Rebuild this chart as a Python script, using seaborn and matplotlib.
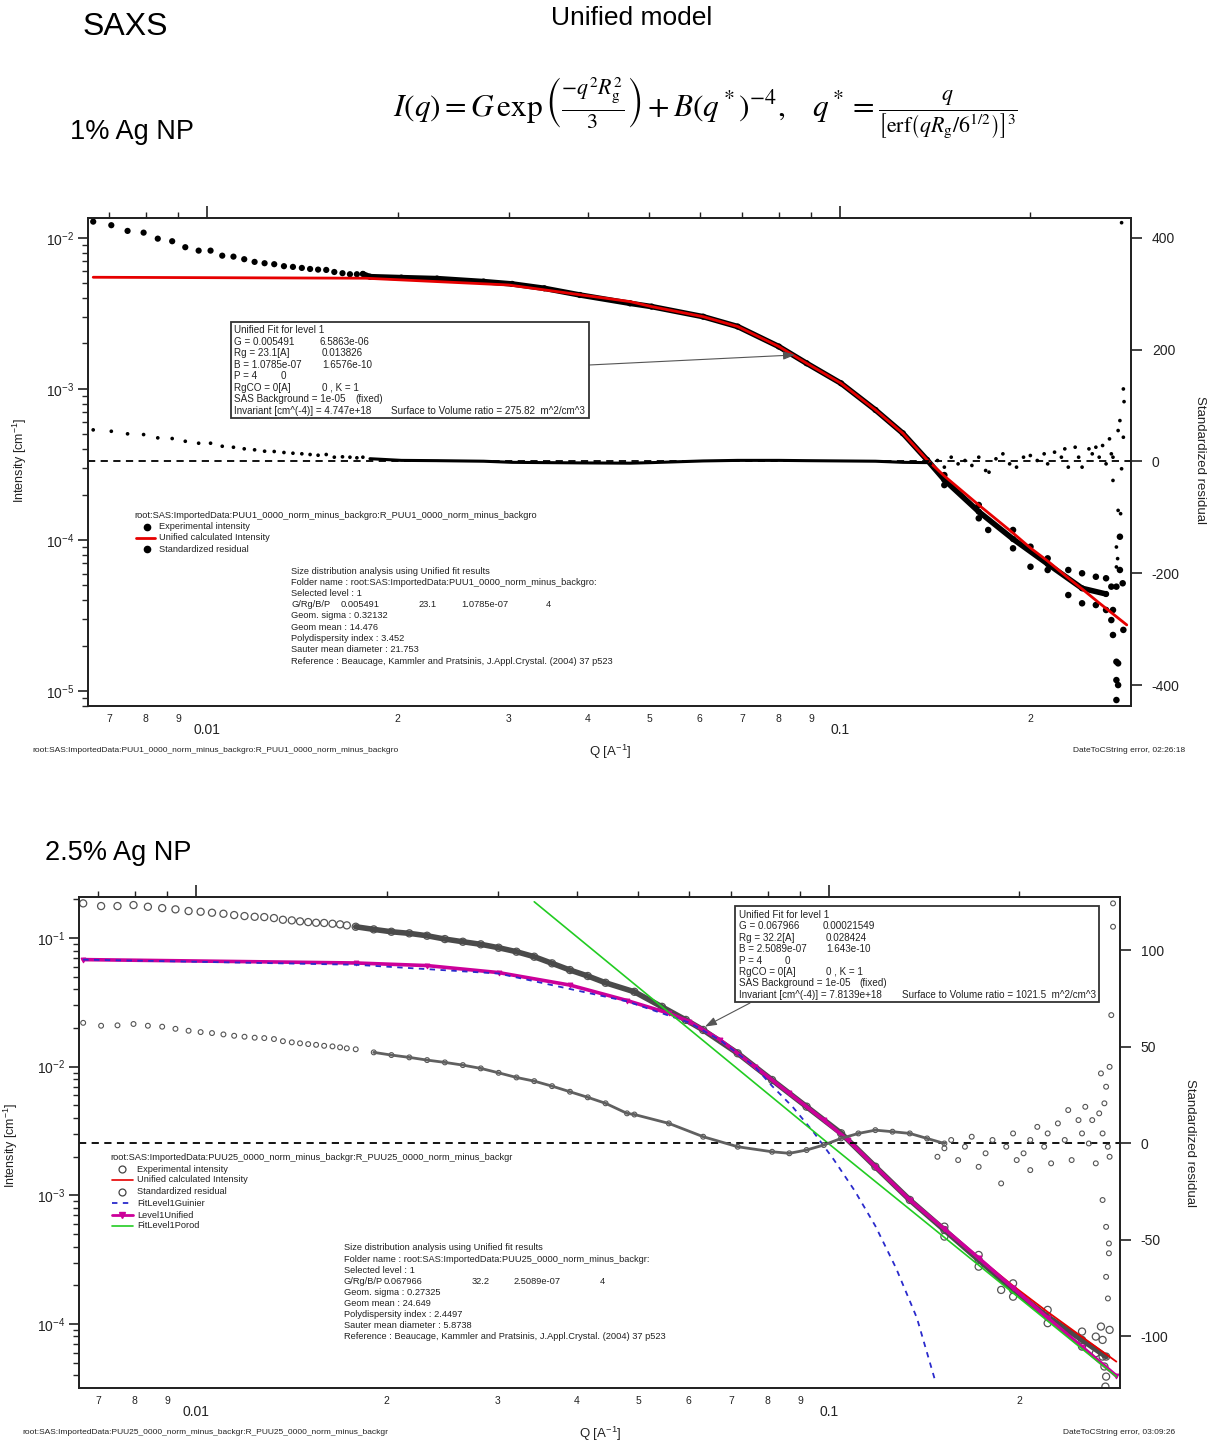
import numpy as np
import matplotlib
matplotlib.use("Agg")
import matplotlib.pyplot as plt
import seaborn as sns
from matplotlib.lines import Line2D
from matplotlib.patches import Rectangle
from matplotlib.ticker import (FixedLocator, FixedFormatter, LogLocator,
                               LogFormatterMathtext, NullFormatter, NullLocator)

# ------------------------------------------------------------------ data
# ---- panel 1 : 1% Ag NP ----
q1_exp = np.array([0.00661, 0.00706, 0.00749, 0.00794, 0.00836, 0.00881, 0.00924, 0.00970,
                   0.01013, 0.01057, 0.01101, 0.01145, 0.01189, 0.01233, 0.01277, 0.01323,
                   0.01367, 0.01412, 0.01455, 0.01498, 0.01543, 0.01589, 0.01637, 0.01682,
                   0.01725, 0.01763, 0.01809, 0.02028, 0.02309, 0.02735, 0.03034, 0.03411,
                   0.03883, 0.04658, 0.05041, 0.06081, 0.06893, 0.08006, 0.08857, 0.1004,
                   0.1138, 0.1257, 0.1373, 0.1462, 0.1657, 0.1877, 0.2129, 0.2413, 0.2633])
I1_exp = np.array([0.01282, 0.01214, 0.01113, 0.01084, 0.00989, 0.00951, 0.00868, 0.00824,
                   0.00824, 0.00763, 0.00752, 0.00723, 0.00694, 0.00680, 0.00670, 0.00650,
                   0.00643, 0.00633, 0.00623, 0.00617, 0.00614, 0.00595, 0.00584, 0.00575,
                   0.00575, 0.00578, 0.00554, 0.00546, 0.00538, 0.00514, 0.00496, 0.00464,
                   0.00419, 0.00369, 0.00351, 0.00301, 0.00259, 0.00191, 0.00148, 0.00109,
                   0.000726, 0.000509, 0.000339, 0.000250, 0.000154, 0.0001015, 6.94e-5,
                   4.79e-5, 4.39e-5])
q1_band = np.array([0.1462, 0.1462, 0.1657, 0.1657, 0.1715, 0.1877, 0.1877, 0.2000, 0.2000,
                    0.2129, 0.2129, 0.2295, 0.2295, 0.2413, 0.2413, 0.2537, 0.2537, 0.2633,
                    0.2633, 0.2684, 0.2684, 0.2769, 0.2769, 0.2797, 0.2734, 0.2700, 0.2804,
                    0.2700, 0.2734, 0.2751, 0.2734, 0.2751, 0.2734])
I1_band = np.array([2.69e-4, 2.31e-4, 1.705e-4, 1.392e-4, 1.165e-4, 1.165e-4, 8.81e-5, 9.03e-5,
                    6.65e-5, 7.56e-5, 6.33e-5, 6.33e-5, 4.32e-5, 6.02e-5, 3.81e-5, 5.71e-5,
                    3.71e-5, 5.58e-5, 3.44e-5, 4.91e-5, 2.95e-5, 1.051e-4, 6.33e-5, 5.17e-5,
                    4.91e-5, 3.44e-5, 2.54e-5, 2.35e-5, 1.563e-5, 1.525e-5, 1.182e-5,
                    1.095e-5, 8.72e-6])
q1_fit = np.array([0.00661, 0.01781, 0.02996, 0.04658, 0.05041, 0.06081, 0.06893, 0.08006,
                   0.08857, 0.1004, 0.1138, 0.1257, 0.1373, 0.1462, 0.1657, 0.1877, 0.2000,
                   0.2129, 0.2295, 0.2413, 0.2568, 0.2839])
I1_fit = np.array([0.00549, 0.00541, 0.00488, 0.00379, 0.00351, 0.00301, 0.00259, 0.00191,
                   0.00148, 0.00109, 0.000726, 0.000509, 0.000339, 2.653e-4, 1.705e-4,
                   1.112e-4, 8.85e-5, 7.26e-5, 5.60e-5, 4.74e-5, 3.83e-5, 2.74e-5])
r1_res_low = np.array([56.6, 54.1, 49.5, 48.2, 42.3, 41.1, 36.2, 32.7, 32.7, 27.3, 25.5, 22.7,
                       20.9, 18.4, 17.9, 16.1, 14.8, 13.8, 12.5, 11.2, 12.5, 7.7, 8.4, 7.7,
                       6.6, 7.7])
q1_res_mid = np.array([0.01809, 0.02028, 0.02309, 0.02735, 0.03034, 0.03411, 0.03883, 0.04658,
                       0.05041, 0.06081, 0.06893, 0.08006, 0.08857, 0.1004, 0.1138, 0.1257,
                       0.1373])
r1_res_mid = np.array([5.0, 2.0, 1.5, 0.5, -1.5, -2.0, -2.5, -3.0, -2.0, 1.0, 2.0, 2.0, 1.5,
                       1.0, 0.5, -1.5, -2.0])
q1_res_hi = np.array([0.1390, 0.1426, 0.1462, 0.1499, 0.1537, 0.1576, 0.1616, 0.1657, 0.1699,
                      0.1720, 0.1764, 0.1809, 0.1854, 0.1901, 0.1950, 0.1999, 0.2050, 0.2102,
                      0.2129, 0.2183, 0.2238, 0.2266, 0.2295, 0.2353, 0.2383, 0.2413, 0.2474,
                      0.2504, 0.2537, 0.2568, 0.2600, 0.2633, 0.2666, 0.2684, 0.2700,
                      0.2804, 0.2811, 0.2769, 0.2751, 0.2804, 0.2700, 0.2786, 0.2751, 0.2776,
                      0.2734, 0.2746, 0.2734, 0.2786])
r1_res_hi = np.array([-4.2, 1.8, -10.1, 7.7, -4.2, 1.8, -7.1, 7.7, -16.1, -19.1, 4.8, 13.7,
                      -4.2, -10.1, 7.7, 10.7, 1.8, 13.7, -4.2, 16.7, 7.7, 22.6, -10.1, 25.6,
                      7.7, -10.1, 22.6, 13.7, 25.6, 7.7, 28.6, -4.2, 40.5, 13.7, 7.7,
                      129.8, 107.1, 73.2, 55.4, 43.4, -33.9, -13.0, -87.5, -93.4, -153.0,
                      -173.8, -188.7, 427.3])

# ---- panel 2 : 2.5% Ag NP ----
q2_exp = np.array([0.006634, 0.007081, 0.007516, 0.007967, 0.008395, 0.008843, 0.009280,
                   0.009734, 0.01017, 0.01060, 0.01105, 0.01149, 0.01193, 0.01238, 0.01282,
                   0.01328, 0.01372, 0.01417, 0.01460, 0.01504, 0.01548, 0.01594, 0.01643,
                   0.01689, 0.01731, 0.01788, 0.01909, 0.02036, 0.02173, 0.02318, 0.02473,
                   0.02640, 0.02818, 0.03007, 0.03209, 0.03423, 0.03652, 0.03898, 0.04159,
                   0.04437, 0.04928, 0.05447, 0.05941, 0.06329, 0.07176, 0.08131, 0.09219,
                   0.1045, 0.1184, 0.1342, 0.1522, 0.1724, 0.1954, 0.2216, 0.2511, 0.2741])
I2_exp = np.array([0.1860, 0.1773, 0.1773, 0.1805, 0.1751, 0.1710, 0.1671, 0.1621, 0.1601,
                   0.1573, 0.1545, 0.1509, 0.1482, 0.1463, 0.1456, 0.1430, 0.1387, 0.1372,
                   0.1348, 0.1331, 0.1315, 0.1310, 0.1292, 0.1278, 0.1255, 0.1224, 0.1168,
                   0.1119, 0.1088, 0.1042, 0.0982, 0.0936, 0.0894, 0.0841, 0.0783, 0.0716,
                   0.0636, 0.0564, 0.0507, 0.0449, 0.0382, 0.0292, 0.0231, 0.0193, 0.01271,
                   0.00788, 0.00489, 0.00304, 0.00167, 0.000921, 0.000538, 0.000315,
                   0.000184, 0.000114, 7.52e-5, 5.58e-5])
q2_band = np.array([0.1522, 0.1522, 0.1724, 0.1724, 0.1871, 0.1954, 0.1954, 0.2216, 0.2216,
                    0.2511, 0.2511, 0.2640, 0.2640, 0.2706, 0.2706, 0.2690, 0.2776, 0.2724,
                    0.2741, 0.2734])
I2_band = np.array([5.71e-4, 4.78e-4, 3.44e-4, 2.79e-4, 1.84e-4, 2.07e-4, 1.63e-4, 1.287e-4,
                    1.015e-4, 8.73e-5, 6.67e-5, 7.98e-5, 5.93e-5, 7.52e-5, 5.58e-5, 9.55e-5,
                    9.00e-5, 4.67e-5, 3.90e-5, 3.26e-5])
q2_fit = np.array([0.006634, 0.01788, 0.02318, 0.03007, 0.03898, 0.04797, 0.05586, 0.06020,
                   0.06739, 0.07638, 0.08658, 0.09813, 0.1072, 0.1184, 0.1342, 0.1522, 0.1724,
                   0.1954, 0.2216, 0.2511, 0.2845])
I2_fit = np.array([0.0680, 0.0640, 0.0611, 0.0539, 0.0431, 0.0327, 0.0260, 0.0224, 0.01612,
                   0.01000, 0.00621, 0.00385, 0.00269, 0.00167, 0.000921, 0.000548, 0.000326,
                   0.000198, 0.000124, 7.94e-5, 5.10e-5])
I2_unified = np.array([0.0680, 0.0640, 0.0611, 0.0539, 0.0431, 0.0327, 0.0260, 0.0224, 0.01612,
                       0.01000, 0.00621, 0.00385, 0.00269, 0.00167, 0.000921, 0.000548,
                       0.000326, 0.000191, 0.0001115, 6.64e-5, 3.95e-5])
q2_guinier = np.array([0.006634, 0.01788, 0.03007, 0.04797, 0.06020, 0.06739, 0.07638, 0.08131,
                       0.08767, 0.09451, 0.1019, 0.1099, 0.1184, 0.1276, 0.1377, 0.1475])
I2_guinier = np.array([0.0680, 0.0620, 0.0530, 0.0322, 0.0220, 0.0160, 0.0100, 0.00708,
                       0.00486, 0.00311, 0.00188, 0.00108, 0.000578, 0.000273, 0.0001115,
                       3.49e-5])
q2_porod = np.array([0.03423, 0.1, 0.2845])
I2_porod = np.array([0.1914, 0.00251, 3.90e-5])
r2_res_low = np.array([62.3, 60.8, 61.0, 61.7, 60.8, 60.3, 59.2, 58.2, 57.5, 57.0, 56.3, 55.6,
                       55.1, 54.6, 54.4, 53.9, 52.8, 52.2, 51.7, 51.3, 50.9, 50.4, 50.1, 49.6,
                       49.1, 48.6])
q2_res_mid = np.array([0.01909, 0.02036, 0.02173, 0.02318, 0.02473, 0.02640, 0.02818, 0.03007,
                       0.03209, 0.03423, 0.03652, 0.03898, 0.04159, 0.04437, 0.04797, 0.04928,
                       0.05586, 0.06329, 0.07176, 0.08131, 0.08658, 0.09219, 0.09813, 0.1045,
                       0.1113, 0.1184, 0.1260, 0.1342, 0.1429, 0.1522])
r2_res_mid = np.array([47.0, 45.6, 44.4, 43.0, 41.8, 40.4, 38.7, 36.4, 34.0, 32.1, 29.5, 26.6,
                       23.7, 20.6, 15.4, 14.8, 10.2, 3.3, -1.9, -4.5, -5.3, -3.6, -1.0, 2.4,
                       5.0, 6.7, 5.9, 5.0, 2.4, -0.2])
q2_res_hi = np.array([0.1484, 0.1522, 0.1560, 0.1600, 0.1640, 0.1681, 0.1724, 0.1768, 0.1813,
                      0.1871, 0.1906, 0.1954, 0.1980, 0.2030, 0.2080, 0.2080, 0.2134, 0.2188,
                      0.2216, 0.2244, 0.2300, 0.2358, 0.2388, 0.2418, 0.2479, 0.2511, 0.2541,
                      0.2574, 0.2606, 0.2640, 0.2673, 0.2690, 0.2706, 0.2724, 0.2741, 0.2758,
                      0.2776, 0.2811, 0.2811, 0.2793, 0.2776, 0.2706, 0.2741, 0.2769, 0.2769,
                      0.2741, 0.2759])
r2_res_hi = np.array([-7.1, -2.7, 1.6, -8.8, -1.9, 3.3, -12.3, -5.3, 1.6, -20.9, -1.9, 5.0,
                      -8.8, -5.3, 1.6, -14.0, 8.4, -1.9, 5.0, -10.5, 10.2, 1.6, 17.1, -8.8,
                      11.9, 5.0, 18.8, -0.2, 11.9, -10.5, 15.4, 36.1, 5.0, 20.6, 29.2, -1.9,
                      39.5, 124.2, 112.1, 66.3, -7.1, -29.5, -43.4, -52.0, -57.1, -69.3, -80.5])

# ticks / labels
x_major = [0.01, 0.1]
x_major_labels = ["0.01", "0.1"]
x_minor = [0.007, 0.008, 0.009, 0.02, 0.03, 0.04, 0.05, 0.06, 0.07, 0.08, 0.09, 0.2]
x_minor_labels = ["7", "8", "9", "2", "3", "4", "5", "6", "7", "8", "9", "2"]
r1_ticks = [400, 200, 0, -200, -400]
r2_ticks = [100, 50, 0, -50, -100]

box1_rows = [("Unified Fit for level 1", None, None),
             ("G = 0.005491", "6.5863e-06", 319),
             ("Rg = 23.1[A]", "0.013826", 322),
             ("B = 1.0785e-07", "1.6576e-10", 322),
             ("P = 4", "0", 281),
             ("RgCO = 0[A]", "0 , K = 1", 322),
             ("SAS Background = 1e-05", "(fixed)", 355),
             ("Invariant [cm^(-4)] = 4.747e+18", "Surface to Volume ratio = 275.82  m^2/cm^3", 391)]
box2_rows = [("Unified Fit for level 1", None, None),
             ("G = 0.067966", "0.00021549", 823),
             ("Rg = 32.2[A]", "0.028424", 826),
             ("B = 2.5089e-07", "1.643e-10", 826),
             ("P = 4", "0", 785),
             ("RgCO = 0[A]", "0 , K = 1", 826),
             ("SAS Background = 1e-05", "(fixed)", 859),
             ("Invariant [cm^(-4)] = 7.8139e+18", "Surface to Volume ratio = 1021.5  m^2/cm^3", 902)]
info1 = ["Size distribution analysis using Unified fit results",
         "Folder name : root:SAS:ImportedData:PUU1_0000_norm_minus_backgro:",
         "Selected level : 1",
         None,
         "Geom. sigma : 0.32132",
         "Geom mean : 14.476",
         "Polydispersity index : 3.452",
         "Sauter mean diameter : 21.753",
         "Reference : Beaucage, Kammler and Pratsinis, J.Appl.Crystal. (2004) 37 p523"]
info1_gr = [("G/Rg/B/P", 291), ("0.005491", 341), ("23.1", 419), ("1.0785e-07", 461), ("4", 546)]
info2 = ["Size distribution analysis using Unified fit results",
         "Folder name : root:SAS:ImportedData:PUU25_0000_norm_minus_backgr:",
         "Selected level : 1",
         None,
         "Geom. sigma : 0.27325",
         "Geom mean : 24.649",
         "Polydispersity index : 2.4497",
         "Sauter mean diameter : 5.8738",
         "Reference : Beaucage, Kammler and Pratsinis, J.Appl.Crystal. (2004) 37 p523"]
info2_gr = [("G/Rg/B/P", 344), ("0.067966", 384), ("32.2", 472), ("2.5089e-07", 514), ("4", 600)]

# ------------------------------------------------------------------ style
sns.set_style("white")
plt.rcParams['font.family'] = ['Liberation Sans', 'DejaVu Sans']
plt.rcParams['mathtext.fontset'] = 'custom'
plt.rcParams['mathtext.rm'] = 'Liberation Sans'
plt.rcParams['mathtext.it'] = 'Liberation Sans:italic'
plt.rcParams['mathtext.bf'] = 'Liberation Sans:bold'
plt.rcParams['axes.unicode_minus'] = False

W, H = 1217, 1447
fig = plt.figure(figsize=(W / 100, H / 100), dpi=100)
fig.patch.set_facecolor('white')


def P(x, y):
    return (x / W, 1 - y / H)


def T(x, y, s, **kw):
    kw.setdefault('va', 'center')
    kw.setdefault('ha', 'left')
    kw.setdefault('color', '#222222')
    fig.text(x / W, 1 - y / H, s, **kw)


def style_axes(ax, axr, ylim, xlim, rlim, rticks):
    ax.set_xscale('log')
    ax.set_yscale('log')
    ax.set_xlim(*xlim)
    ax.set_ylim(*ylim)
    ax.xaxis.set_major_locator(FixedLocator(x_major))
    ax.xaxis.set_major_formatter(FixedFormatter(x_major_labels))
    ax.xaxis.set_minor_locator(FixedLocator(x_minor))
    ax.xaxis.set_minor_formatter(FixedFormatter(x_minor_labels))
    ax.tick_params(axis='x', which='major', direction='out', length=8.5, width=1.2, pad=4,
                   labelsize=10, top=True, labeltop=False, colors='#222222')
    ax.tick_params(axis='x', which='minor', direction='out', length=4.5, width=1.0, pad=1.5,
                   labelsize=7.5, top=True, labeltop=False, colors='#222222')
    ax.yaxis.set_major_locator(LogLocator(base=10, numticks=12))
    ax.yaxis.set_major_formatter(LogFormatterMathtext())
    ax.yaxis.set_minor_locator(LogLocator(base=10, subs=np.arange(2, 10), numticks=12))
    ax.yaxis.set_minor_formatter(NullFormatter())
    ax.tick_params(axis='y', which='major', direction='out', length=7, width=1.2, pad=3,
                   labelsize=10, right=False, colors='#222222')
    ax.tick_params(axis='y', which='minor', direction='out', length=4, width=1.0,
                   right=False)
    axr.set_ylim(*rlim)
    axr.yaxis.set_major_locator(FixedLocator(rticks))
    axr.yaxis.set_minor_locator(NullLocator())
    axr.tick_params(axis='y', which='major', direction='out', length=8, width=1.2, pad=7,
                    labelsize=10, colors='#222222')
    for a in (ax, axr):
        a.set_xlabel('')
        a.set_ylabel('')
        for sp in a.spines.values():
            sp.set_linewidth(1.3)
            sp.set_color('#222222')
        a.grid(False)


# ------------------------------------------------------------------ headers
T(83, 27, "SAXS", fontsize=23, color='black')
T(632, 18, "Unified model", fontsize=19, ha='center', color='black')
fig.text(705 / W, 1 - 108 / H,
         r"$I(q) = G\,\exp\left(\frac{-q^2 R_\mathrm{g}^2}{3}\right) + B(q^*)^{-4},\quad "
         r"q^* = \frac{q}{\left[\mathrm{erf}\left(qR_\mathrm{g}/6^{1/2}\right)\right]^3}$",
         fontsize=22.5, ha='center', va='center', math_fontfamily='stix', color='black')
T(70, 132, "1% Ag NP", fontsize=19.5, color='black')
T(45, 853, "2.5% Ag NP", fontsize=19.5, color='black')

# ------------------------------------------------------------------ panel 1
ax1 = fig.add_axes([88 / W, 1 - 706 / H, (1131 - 88) / W, (706 - 218) / H])
ax1.set_xscale('log'); ax1.set_yscale('log')
dense1 = q1_exp >= 0.0175
sns.lineplot(x=q1_exp[dense1], y=I1_exp[dense1], ax=ax1, color='black', lw=4.0,
             estimator=None, sort=False, legend=False)
sns.scatterplot(x=q1_exp, y=I1_exp, ax=ax1, s=20, color='black', edgecolor='none',
                legend=False)
sns.scatterplot(x=q1_band, y=I1_band, ax=ax1, s=22, color='black', edgecolor='none',
                legend=False)
sns.lineplot(x=q1_fit, y=I1_fit, ax=ax1, color='#e60000', lw=2.0, estimator=None,
             sort=False, legend=False)

ax1r = ax1.twinx()
sns.scatterplot(x=q1_exp[:26], y=r1_res_low, ax=ax1r, s=7, color='black', edgecolor='none',
                legend=False)
sns.lineplot(x=q1_res_mid, y=r1_res_mid, ax=ax1r, color='black', lw=2.2, estimator=None,
             sort=False, legend=False)
sns.scatterplot(x=q1_res_hi, y=r1_res_hi, ax=ax1r, s=7, color='black', edgecolor='none',
                legend=False)
ax1r.axhline(0, color='black', lw=1.3, ls=(0, (4, 3)), zorder=0)
style_axes(ax1, ax1r, (7.96e-6, 1.355e-2), (0.006486, 0.2883), (-437.5, 435.7), r1_ticks)

# annotation box 1
fig.add_artist(Rectangle(P(231, 418), (589 - 231) / W, (418 - 322) / H,
                         transform=fig.transFigure, fill=True, fc='white', ec='#333333',
                         lw=1.3, zorder=5))
for i, (c1, c2, x2) in enumerate(box1_rows):
    yy = 330 + i * 11.57
    T(234, yy, c1, fontsize=7.1, zorder=6)
    if c2:
        T(x2, yy, c2, fontsize=7.1, zorder=6)
ax1.annotate('', xy=(0.0849, 0.00168), xycoords='data', xytext=P(589, 365),
             textcoords='figure fraction',
             arrowprops=dict(arrowstyle='-|>,head_length=0.7,head_width=0.25',
                             color='#555555', lw=0.8, shrinkA=0, shrinkB=0))

# legend 1
T(134, 515, "root:SAS:ImportedData:PUU1_0000_norm_minus_backgro:R_PUU1_0000_norm_minus_backgro",
  fontsize=6.7)
leg1 = [(526.5, 'dot', "Experimental intensity"),
        (537.7, 'red', "Unified calculated Intensity"),
        (549.3, 'dot', "Standardized residual")]
for yy, kind, lab in leg1:
    if kind == 'dot':
        fig.add_artist(Line2D([147 / W], [1 - yy / H], transform=fig.transFigure,
                              marker='o', ms=4.5, color='black', ls='none'))
    else:
        fig.add_artist(Line2D([136 / W, 155 / W], [1 - yy / H] * 2,
                              transform=fig.transFigure, color='#e60000', lw=2))
    T(159, yy, lab, fontsize=6.7)

for i, line in enumerate(info1):
    yy = 571 + i * 11.25
    if line is None:
        for s, xx in info1_gr:
            T(xx, yy, s, fontsize=6.7)
    else:
        T(291, yy, line, fontsize=6.7)

T(20, 460, r"Intensity [cm$^{-1}$]", fontsize=9, rotation=90, ha='center')
T(1200, 460, "Standardized residual", fontsize=9.5, rotation=270, ha='center')
T(610, 752, r"Q [A$^{-1}$]", fontsize=9.5, ha='center')
T(32, 751, "root:SAS:ImportedData:PUU1_0000_norm_minus_backgro:R_PUU1_0000_norm_minus_backgro",
  fontsize=6.0)
T(1185, 751, "DateToCString error, 02:26:18", fontsize=6.0, ha='right')

# ------------------------------------------------------------------ panel 2
ax2 = fig.add_axes([79 / W, 1 - 1388 / H, (1120 - 79) / W, (1388 - 897) / H])
ax2.set_xscale('log'); ax2.set_yscale('log')
gray = '#555555'
dense2 = q2_exp >= 0.0175
sns.lineplot(x=q2_exp[dense2], y=I2_exp[dense2], ax=ax2, color='#4a4a4a', lw=4.0,
             estimator=None, sort=False, legend=False)
sns.scatterplot(x=q2_exp, y=I2_exp, ax=ax2, s=26, facecolor='none', edgecolor=gray,
                linewidth=0.9, legend=False)
sns.scatterplot(x=q2_band, y=I2_band, ax=ax2, s=26, facecolor='none', edgecolor=gray,
                linewidth=0.9, legend=False)
sns.lineplot(x=q2_fit, y=I2_fit, ax=ax2, color='#e60000', lw=1.3, estimator=None,
             sort=False, legend=False)
sns.lineplot(x=q2_fit, y=I2_unified, ax=ax2, color='#cc0099', lw=2.6, estimator=None,
             sort=False, legend=False, marker='v', markersize=3.5, markeredgecolor='#cc0099')
sns.lineplot(x=q2_guinier, y=I2_guinier, ax=ax2, color='#2a2acc', lw=1.3, estimator=None,
             sort=False, legend=False, dashes=False, linestyle=(0, (3, 3)))
sns.lineplot(x=q2_porod, y=I2_porod, ax=ax2, color='#22cc22', lw=1.2, estimator=None,
             sort=False, legend=False)

ax2r = ax2.twinx()
sns.scatterplot(x=q2_exp[:26], y=r2_res_low, ax=ax2r, s=12, facecolor='none',
                edgecolor=gray, linewidth=0.8, legend=False)
sns.lineplot(x=q2_res_mid, y=r2_res_mid, ax=ax2r, color='#606060', lw=2.0, estimator=None,
             sort=False, legend=False)
sns.scatterplot(x=q2_res_mid, y=r2_res_mid, ax=ax2r, s=12, facecolor='none',
                edgecolor=gray, linewidth=0.8, legend=False)
sns.scatterplot(x=q2_res_hi, y=r2_res_hi, ax=ax2r, s=12, facecolor='none',
                edgecolor=gray, linewidth=0.8, legend=False)
ax2r.axhline(0, color='black', lw=1.3, ls=(0, (4, 3)), zorder=0)
style_axes(ax2, ax2r, (3.18e-5, 0.2085), (0.006534, 0.2883), (-126.9, 127.5), r2_ticks)

fig.add_artist(Rectangle(P(735, 1002), (1099 - 735) / W, (1002 - 906) / H,
                         transform=fig.transFigure, fill=True, fc='white', ec='#333333',
                         lw=1.3, zorder=5))
for i, (c1, c2, x2) in enumerate(box2_rows):
    yy = 915 + i * 11.4
    T(739, yy, c1, fontsize=7.1, zorder=6)
    if c2:
        T(x2, yy, c2, fontsize=7.1, zorder=6)
ax2.annotate('', xy=(0.0637, 0.0205), xycoords='data', xytext=P(750, 1003),
             textcoords='figure fraction',
             arrowprops=dict(arrowstyle='-|>,head_length=0.7,head_width=0.25',
                             color='#555555', lw=0.8, shrinkA=0, shrinkB=0))

T(110, 1157, "root:SAS:ImportedData:PUU25_0000_norm_minus_backgr:R_PUU25_0000_norm_minus_backgr",
  fontsize=6.7)
leg2 = [(1169, 'circ', "Experimental intensity"),
        (1180, 'red', "Unified calculated Intensity"),
        (1192, 'circ', "Standardized residual"),
        (1203, 'blue', "FitLevel1Guinier"),
        (1215, 'mag', "Level1Unified"),
        (1226, 'green', "FitLevel1Porod")]
for yy, kind, lab in leg2:
    fy = 1 - yy / H
    if kind == 'circ':
        fig.add_artist(Line2D([122 / W], [fy], transform=fig.transFigure, marker='o', ms=5,
                              mfc='none', mec='#444444', mew=0.9, ls='none'))
    elif kind == 'red':
        fig.add_artist(Line2D([112 / W, 133 / W], [fy] * 2, transform=fig.transFigure,
                              color='#e60000', lw=1.2))
    elif kind == 'blue':
        fig.add_artist(Line2D([112 / W, 133 / W], [fy] * 2, transform=fig.transFigure,
                              color='#2a2acc', lw=1.3, ls=(0, (3, 3))))
    elif kind == 'mag':
        fig.add_artist(Line2D([112 / W, 133 / W], [fy] * 2, transform=fig.transFigure,
                              color='#cc0099', lw=2))
        fig.add_artist(Line2D([122 / W], [fy], transform=fig.transFigure, marker='v', ms=5,
                              color='#cc0099', ls='none'))
    else:
        fig.add_artist(Line2D([112 / W, 133 / W], [fy] * 2, transform=fig.transFigure,
                              color='#22cc22', lw=1.2))
    T(137, yy, lab, fontsize=6.7)

for i, line in enumerate(info2):
    yy = 1248 + i * 11.1
    if line is None:
        for s, xx in info2_gr:
            T(xx, yy, s, fontsize=6.7)
    else:
        T(344, yy, line, fontsize=6.7)

T(11, 1145, r"Intensity [cm$^{-1}$]", fontsize=9, rotation=90, ha='center')
T(1190, 1143, "Standardized residual", fontsize=9.5, rotation=270, ha='center')
T(600, 1434, r"Q [A$^{-1}$]", fontsize=9.5, ha='center')
T(22, 1433, "root:SAS:ImportedData:PUU25_0000_norm_minus_backgr:R_PUU25_0000_norm_minus_backgr",
  fontsize=6.0)
T(1175, 1433, "DateToCString error, 03:09:26", fontsize=6.0, ha='right')

fig.savefig("out.png", dpi=100, facecolor='white')
